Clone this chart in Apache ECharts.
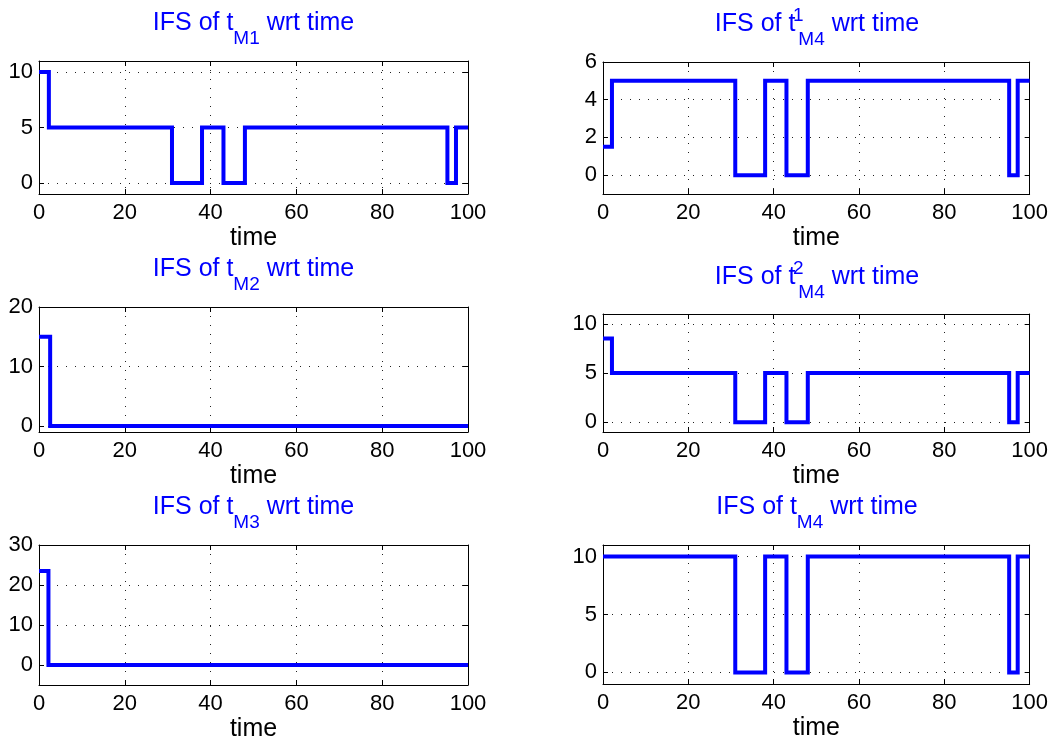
<!DOCTYPE html>
<html>
<head>
<meta charset="UTF-8">
<title>IFS wrt time</title>
<script src="https://cdn.jsdelivr.net/npm/echarts@6/dist/echarts.min.js"></script>
<style>
  html, body { margin: 0; background: #fff; }
  #chart { width: 1051px; height: 743px; }
</style>
</head>
<body>
<div id="chart"></div>
<script>
// time axis
var timeRange = [0, 100];
var timeTicks = [0, 20, 40, 60, 80, 100];

// switching instants and IFS value held from each instant on
var tM1Time = [0, 2.3, 31, 38, 43, 48, 95.2, 97.2, 100];
var tM1 = [10, 5, 0, 5, 0, 5, 0, 5, 5];
var tM2Time = [0, 2.6, 100];
var tM2 = [15, 0, 0];
var tM3Time = [0, 2.2, 100];
var tM3 = [23.5, 0, 0];
var tM4aTime = [0, 2.1, 31, 38, 43, 48, 95.2, 97.2, 100];
var tM4a = [1.5, 5, 0, 5, 0, 5, 0, 5, 5];
var tM4bTime = [0, 2.1, 31, 38, 43, 48, 95.2, 97.2, 100];
var tM4b = [8.5, 5, 0, 5, 0, 5, 0, 5, 5];
var tM4Time = [0, 31, 38, 43, 48, 95.2, 97.2, 100];
var tM4 = [10, 0, 10, 0, 10, 0, 10, 10];

// y limits and tick labels of each subplot
var yRangeM1 = [-1, 11], yTicksM1 = [0, 5, 10];
var yRangeM2 = [-1, 20], yTicksM2 = [0, 10, 20];
var yRangeM3 = [-5, 30], yTicksM3 = [0, 10, 20, 30];
var yRangeM4a = [-1, 6], yTicksM4a = [0, 2, 4, 6];
var yRangeM4b = [-1, 11], yTicksM4b = [0, 5, 10];
var yRangeM4 = [-1, 11], yTicksM4 = [0, 5, 10];

var font = 'Liberation Sans, Arial, Helvetica, sans-serif';
var blue = '#0000ff';

// box = [left, top, width, height], titleTop in px
var panels = [
  { title: '{a|IFS of t}{sub|M1}{a| wrt time}', t: tM1Time, v: tM1, yr: yRangeM1, yt: yTicksM1, box: [39, 61, 429, 133], titleTop: -1 },
  { title: '{a|IFS of t}{sup|1}{sub|M4}{a| wrt time}', t: tM4aTime, v: tM4a, yr: yRangeM4a, yt: yTicksM4a, box: [603, 62, 428, 132], titleTop: 0 },
  { title: '{a|IFS of t}{sub|M2}{a| wrt time}', t: tM2Time, v: tM2, yr: yRangeM2, yt: yTicksM2, box: [39, 307, 429, 125], titleTop: 245 },
  { title: '{a|IFS of t}{sup|2}{sub|M4}{a| wrt time}', t: tM4bTime, v: tM4b, yr: yRangeM4b, yt: yTicksM4b, box: [603, 314, 428, 118], titleTop: 253 },
  { title: '{a|IFS of t}{sub|M3}{a| wrt time}', t: tM3Time, v: tM3, yr: yRangeM3, yt: yTicksM3, box: [39, 545, 429, 140], titleTop: 483 },
  { title: '{a|IFS of t}{sub|M4}{a| wrt time}', t: tM4Time, v: tM4, yr: yRangeM4, yt: yTicksM4, box: [603, 545, 428, 139], titleTop: 483 }
];

var dotted = { color: '#222', width: 1, type: [1, 8] };
var axisLine = { show: true, onZero: false, lineStyle: { color: '#000', width: 1 } };
var tick = { show: true, inside: true, length: 5, lineStyle: { color: '#000' } };

var titles = [], grids = [], xAxes = [], yAxes = [], series = [];

panels.forEach(function (p, i) {
  titles.push({
    text: p.title,
    left: p.box[0] + p.box[2] / 2,
    top: p.titleTop,
    textAlign: 'center',
    padding: 0,
    textStyle: {
      color: blue,
      fontFamily: font,
      fontWeight: 'normal',
      fontSize: 25,
      rich: {
        a: { color: blue, fontFamily: font, fontSize: 25 },
        sub: { color: blue, fontFamily: font, fontSize: 19, padding: [30, 0, 0, 0] },
        sup: { color: blue, fontFamily: font, fontSize: 19, width: 0, padding: [0, 0, 17, 3] }
      }
    }
  });

  grids.push({ left: p.box[0], top: p.box[1], width: p.box[2], height: p.box[3], containLabel: false });

  // bottom x axis with labels
  xAxes.push({
    type: 'value', gridIndex: i, position: 'bottom',
    min: timeRange[0], max: timeRange[1], interval: 20,
    name: 'time', nameLocation: 'middle', nameGap: 32,
    nameTextStyle: { color: '#000', fontSize: 25, fontFamily: font },
    axisLine: axisLine,
    axisTick: tick,
    axisLabel: { color: '#000', fontSize: 22, fontFamily: font, margin: 8, customValues: timeTicks },
    splitLine: { show: true, lineStyle: dotted }
  });
  // top x axis, only closes the box
  xAxes.push({
    type: 'value', gridIndex: i, position: 'top',
    min: timeRange[0], max: timeRange[1], interval: 20,
    axisLine: axisLine,
    axisTick: tick,
    axisLabel: { show: false },
    splitLine: { show: false }
  });

  yAxes.push({
    type: 'value', gridIndex: i, position: 'left',
    min: p.yr[0], max: p.yr[1],
    axisLine: axisLine,
    axisTick: Object.assign({ customValues: p.yt }, tick),
    axisLabel: { color: '#000', fontSize: 22, fontFamily: font, margin: 6, customValues: p.yt },
    splitLine: { show: true, lineStyle: dotted, customValues: p.yt }
  });
  yAxes.push({
    type: 'value', gridIndex: i, position: 'right',
    min: p.yr[0], max: p.yr[1],
    axisLine: axisLine,
    axisTick: Object.assign({ customValues: p.yt }, tick),
    axisLabel: { show: false, customValues: p.yt },
    splitLine: { show: false }
  });

  var data = p.t.map(function (t, k) { return [t, p.v[k]]; });
  series.push({
    type: 'line',
    xAxisIndex: i * 2,
    yAxisIndex: i * 2,
    step: 'end',
    data: data,
    symbol: 'none',
    lineStyle: { color: blue, width: 4, join: 'miter' },
    clip: true
  });
});

var chart = echarts.init(document.getElementById('chart'));
chart.setOption({
  backgroundColor: '#fff',
  animation: false,
  title: titles,
  grid: grids,
  xAxis: xAxes,
  yAxis: yAxes,
  series: series
});
</script>
</body>
</html>
